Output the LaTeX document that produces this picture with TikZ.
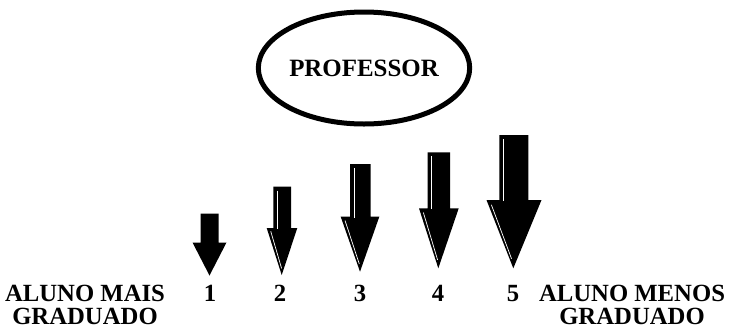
\documentclass[tikz,border=0pt]{standalone}
\usepackage{fontspec}
\setmainfont{Liberation Serif}
\usetikzlibrary{shapes.geometric,calc}
\tikzset{
  lbl/.style={font=\fontsize{24.8}{22.5}\selectfont\bfseries, inner sep=0pt, anchor=base},
  sidelbl/.style={lbl, align=center},
  arrowfill/.style={fill=black},
  glint/.style={draw=white, line width=0.7bp},
  profnode/.style={draw, ellipse, line width=5bp, minimum width=177bp, minimum height=112bp, inner sep=0pt,
    font=\fontsize{25}{29}\selectfont\bfseries}
}
% #1 shaftL #2 shaftR #3 top #4 headTop #5 headL #6 headR #7 tipX #8 tipY
\newcommand{\bkarrow}[8]{%
  \fill[arrowfill] (#1,#3) -- (#2,#3) -- (#2,#4) -- (#6,#4) -- (#7,#8) -- (#5,#4) -- (#1,#4) -- cycle;}
\newcommand{\bkglint}[8]{%
  \draw[glint] (#1+4,#3+4) -- (#1+4,#4+1);
  \draw[glint] ($(#5,#4)!0.07!(#7,#8)+(3,0)$) -- ($(#5,#4)!0.86!(#7,#8)+(2,0)$);}
\begin{document}
\begin{tikzpicture}[x=1bp,y=-1bp]
\useasboundingbox (0,0) rectangle (730,330);
\node[profnode] (prof) at (364,68) {PROFESSOR};

\bkarrow{200.5}{218.5}{213.5}{242.5}{192.5}{226.5}{209.5}{275.5}
\bkarrow{273.3}{291}{186.7}{228}{266.7}{297.3}{281.7}{275}
\bkglint{273.3}{291}{186.7}{228}{266.7}{297.3}{281.7}{275}
\bkarrow{350}{370.7}{164}{216.7}{340.7}{379.3}{360}{271.7}
\bkglint{350}{370.7}{164}{216.7}{340.7}{379.3}{360}{271.7}
\bkarrow{427.7}{450}{152.3}{208.3}{419}{458.7}{438.3}{268.3}
\bkglint{427.7}{450}{152.3}{208.3}{419}{458.7}{438.3}{268.3}
\bkarrow{499.3}{528.3}{135}{200}{486.5}{541.5}{513.3}{268.3}
\bkglint{499.3}{528.3}{135}{200}{486.5}{541.5}{513.3}{268.3}

\node[lbl] (n1) at (210,301.5) {1};
\node[lbl] (n2) at (280,301.5) {2};
\node[lbl] (n3) at (360,301.5) {3};
\node[lbl] (n4) at (438,301.5) {4};
\node[lbl] (n5) at (513,301.5) {5};

\node[sidelbl] (l1) at (85,324) {ALUNO MAIS\\GRADUADO};
\node[sidelbl] (l2) at (632,324) {ALUNO MENOS\\GRADUADO};
\end{tikzpicture}
\end{document}
